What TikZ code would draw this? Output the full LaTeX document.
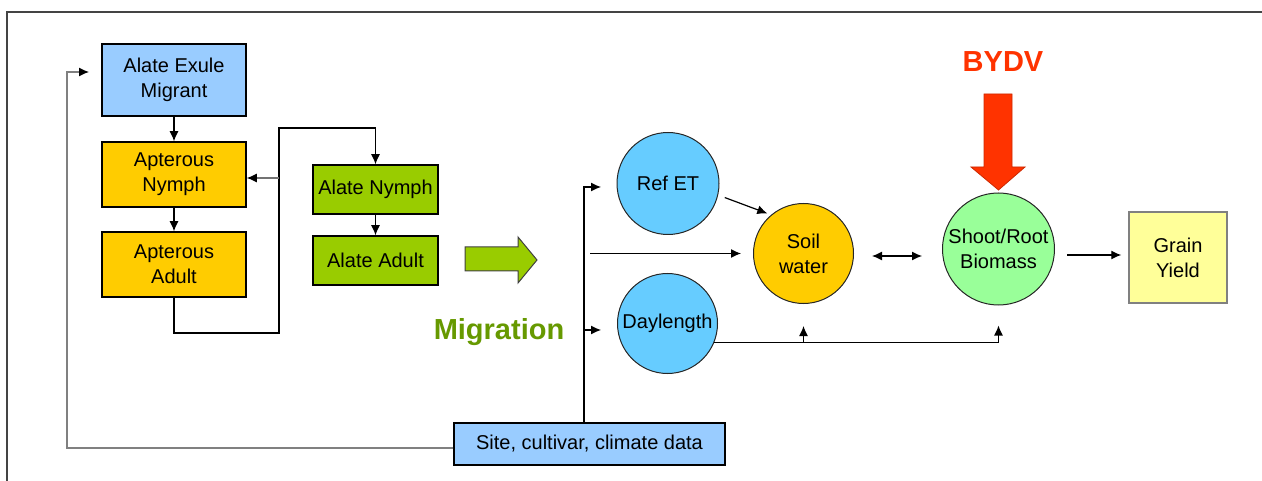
\documentclass[tikz,border=0pt]{standalone}
\usepackage{fontspec}
\setmainfont{Liberation Sans}
\usetikzlibrary{arrows.meta}

\definecolor{skyblue}{HTML}{99CCFF}
\definecolor{cyanblue}{HTML}{66CCFF}
\definecolor{amber}{HTML}{FFCC00}
\definecolor{leaf}{HTML}{99CC00}
\definecolor{mint}{HTML}{99FF99}
\definecolor{paleyellow}{HTML}{FFFF99}
\definecolor{alarm}{HTML}{FF3300}
\definecolor{olivegreen}{HTML}{669900}
\definecolor{framegray}{HTML}{444444}

\tikzset{
  txt/.style={font=\fontsize{20}{25}\selectfont, align=center, inner sep=0pt},
  stagebox/.style={txt, draw=black, line width=1.5pt, minimum width=144pt},
  alatebox/.style={txt, draw=black, line width=1.5pt, fill=leaf, minimum width=125pt, minimum height=49pt},
  poolcirc/.style={txt, circle, draw=black!85, line width=1pt},
  arr/.style={line width=1.2pt, -{Latex[length=10pt,width=9pt,color=black]}},
  both/.style={line width=1.2pt, {Latex[length=10pt,width=9pt]}-{Latex[length=10pt,width=9pt]}},
}

\begin{document}
\begin{tikzpicture}[x=1pt, y=-1pt]
\useasboundingbox (0,0) rectangle (1262,481);

% outer frame (top and left edges)
\coordinate (fbl) at (7,481);
\coordinate (ftl) at (7,12);
\coordinate (ftr) at (1262,12);
\draw[framegray, line width=2pt] (fbl) -- (ftl) -- (ftr);

% aphid life-cycle stages
\node[stagebox, fill=skyblue, minimum height=72pt] (exule) at (174,80) {Alate Exule\\Migrant};
\node[stagebox, fill=amber, minimum height=65pt] (nymph) at (174,174.5) {Apterous\\Nymph};
\node[stagebox, fill=amber, minimum height=65pt] (adult) at (174,264.5) {Apterous\\Adult};
\node[alatebox] (anymph) at (375.5,189.5) {Alate Nymph};
\node[alatebox] (aadult) at (375.5,260.5) {Alate Adult};

\draw[arr] (exule) -- (nymph);
\draw[arr] (nymph) -- (adult);
\draw[arr] (anymph) -- (aadult);

% loop from apterous adults back to nymphs and on to alate nymphs
\coordinate (jlow) at (279,333);
\coordinate (jtop) at (279,128);
\coordinate (jmid) at (279,178);
\draw[arr] (adult.south) |- (jlow) -- (jtop) -| (anymph.north);
\draw[arr, black!55] (jmid) -- (nymph.east |- jmid);

% migration arrow and label
\coordinate (g1) at (465,247);
\coordinate (g2) at (518,247);
\coordinate (g3) at (518,237);
\coordinate (g4) at (537,260);
\coordinate (g5) at (518,283);
\coordinate (g6) at (518,271);
\coordinate (g7) at (465,271);
\draw[fill=leaf, draw=black!75, line width=1pt] (g1) -- (g2) -- (g3) -- (g4) -- (g5) -- (g6) -- (g7) -- cycle;
\node[inner sep=0pt, text=olivegreen, font=\fontsize{29}{32}\selectfont\bfseries] (migr) at (499,332) {Migration};

% crop model
\node[txt, draw=black, line width=1.5pt, fill=skyblue, minimum width=271pt, minimum height=42pt] (site) at (589.5,444) {Site, cultivar, climate data};
\node[poolcirc, fill=cyanblue, minimum size=102pt] (ref) at (668,183.5) {Ref ET};
\node[poolcirc, fill=cyanblue, minimum size=100pt] (day) at (667.5,323.5) {Daylength};
\node[poolcirc, fill=amber, minimum size=100pt] (soil) at (803.5,253.5) {Soil\\water};
\node[poolcirc, fill=mint, minimum size=112pt] (bio) at (998.5,249) {Shoot/Root\\Biomass};
\node[txt, draw=black!50, line width=1.5pt, fill=paleyellow, minimum width=98pt, minimum height=91pt] (grain) at (1178,257.5) {Grain\\Yield};

% climate data feeding the model
\coordinate (vtop) at (584,187);
\coordinate (vday) at (584,330);
\coordinate (reftip) at (601,187);
\coordinate (daytip) at (601,330);
\coordinate (swstart) at (590,253.5);
\draw[arr] (site.north -| vtop) |- (reftip);
\draw[arr] (vday) -- (daytip);
\draw[arr, shorten >=12pt] (swstart) -- (soil.west);

% climate data feeding back to the migrants
\coordinate (fbcorner) at (67,72);
\coordinate (fbtip) at (89,72);
\draw[arr, black!50] ([yshift=-4pt]site.west) -| (fbcorner) -- (fbtip);

% model links
\draw[arr, shorten <=7pt, shorten >=4pt] (ref.-13) -- (soil.130);
\coordinate (dbl) at (0,256);
\draw[both, shorten <=18pt, shorten >=20pt] (soil.east |- dbl) -- (bio.west |- dbl);
\coordinate (gy) at (0,255);
\draw[arr, shorten <=12pt, shorten >=7pt] (bio.east |- gy) -- (grain.west |- gy);
\draw[arr, shorten >=20pt] (day.-22) -| (bio.south);
\draw[arr, shorten >=22pt] (soil.south |- day.-22) -- (soil.south);

% virus impact on biomass
\node[inner sep=0pt, text=alarm, font=\fontsize{29}{32}\selectfont\bfseries] (bydv) at (1003,62) {BYDV};
\coordinate (r1) at (984,94);
\coordinate (r2) at (1012,94);
\coordinate (r3) at (1012,167);
\coordinate (r4) at (1025,167);
\coordinate (r5) at (998.5,190);
\coordinate (r6) at (971,167);
\coordinate (r7) at (984,167);
\draw[fill=alarm, draw=alarm!80!black, line width=0.8pt] (r1) -- (r2) -- (r3) -- (r4) -- (r5) -- (r6) -- (r7) -- cycle;
\end{tikzpicture}
\end{document}
